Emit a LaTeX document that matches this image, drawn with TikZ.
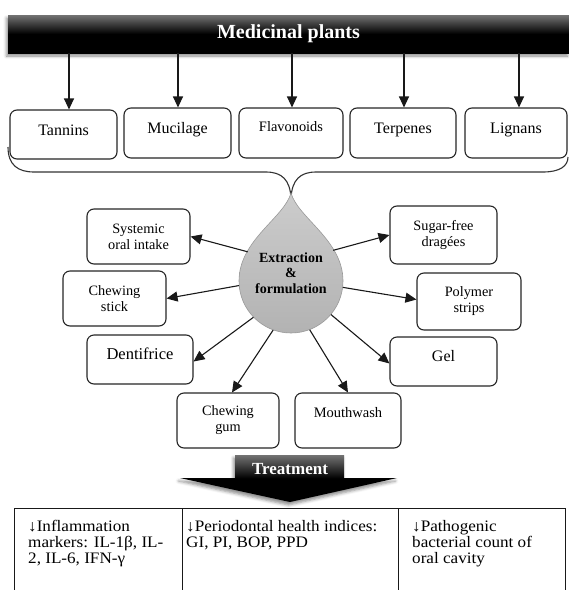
\documentclass[tikz,border=0pt]{standalone}
\usepackage{fontspec}
\setmainfont{Liberation Serif}
\newfontfamily\tabfont[FakeStretch=1.07]{Liberation Serif}
\usetikzlibrary{arrows.meta,shadows.blur}
\begin{document}
\begin{tikzpicture}[x=1pt,y=1pt,
  box/.style={draw=black!85, line width=1.1pt, rounded corners=7pt, fill=white, inner sep=1pt, align=center},
  liftby/.style={text height=11pt, text depth=#1},
  topfont/.style={font=\fontsize{16}{18}\selectfont},
  smallfont/.style={font=\fontsize{14.3}{16}\selectfont},
  arr/.style={draw=black!90, line width=1.1pt, -{Triangle[length=11pt,width=10pt]}},
  braceline/.style={draw=black!80, line width=1.1pt},
  darkbar/.style={top color=black!55, bottom color=black, middle color=black, draw=none,
     blur shadow={shadow xshift=-1.5pt, shadow yshift=-3pt, shadow blur radius=3pt, shadow opacity=45}},
  cell/.style={anchor=north west, inner sep=0pt, align=left, font=\tabfont\fontsize{16}{16}\selectfont},
  tabline/.style={draw=black!90, line width=1pt}
]
\useasboundingbox (0,0) rectangle (569,-590);

% top bar
\node[darkbar, minimum width=561pt, minimum height=38pt, inner sep=0pt,
      text=white, font=\fontsize{20}{24}\selectfont\bfseries] (bar) at (288.5,-34) {Medicinal plants};

% compound boxes
\node[box, topfont, minimum width=107pt, minimum height=49pt, liftby=9.4pt] (tannins) at (63.5,-134.5) {Tannins};
\node[box, topfont, minimum width=107pt, minimum height=50pt, liftby=10.4pt] (mucilage) at (177.5,-133) {Mucilage};
\node[box, font=\fontsize{14.4}{16}\selectfont, minimum width=104pt, minimum height=50pt, text height=10pt, text depth=12.5pt] (flavo) at (291,-133) {Flavonoids};
\node[box, topfont, minimum width=106pt, minimum height=50pt, liftby=10.4pt] (terpenes) at (403,-133) {Terpenes};
\node[box, topfont, minimum width=102pt, minimum height=50pt, liftby=10.4pt] (lignans) at (516,-133) {Lignans};

\coordinate (a1) at ([xshift=5.5pt]tannins.north);
\coordinate (a2) at ([xshift=0.5pt]mucilage.north);
\coordinate (a3) at ([xshift=1pt]flavo.north);
\coordinate (a4) at ([xshift=1pt]terpenes.north);
\coordinate (a5) at ([xshift=3pt]lignans.north);
\foreach \c in {a1,a2,a3,a4,a5}{
  \draw[arr] (\c |- bar.south) -- (\c);
}

% brace
\draw[braceline] (8,-147) .. controls (8,-165) and (18,-172) .. (34,-172) -- (266,-172)
   .. controls (282,-172) and (290,-180) .. (291,-198);
\draw[braceline] (291,-198) .. controls (292,-180) and (300,-172) .. (316,-172) -- (543,-172)
   .. controls (560,-172) and (568,-166) .. (568,-157);

% drop
\draw[draw=black!40, line width=0.6pt, top color=black!20, bottom color=black!30]
  (291,-193) .. controls (298,-218) and (343,-240) .. (343,-281)
  arc[start angle=0, end angle=-180, radius=52]
  .. controls (239,-240) and (284,-218) .. (291,-193) -- cycle;
\node[circle, minimum size=104pt, inner sep=0pt] (dropc) at (291,-281) {};
\node[align=center, inner sep=0pt, font=\fontsize{14}{15.5}\selectfont\bfseries] (droptxt) at (291,-273) {Extraction\\\&\\formulation};

% formulation boxes
\node[box, smallfont, minimum width=103pt, minimum height=55pt] (sys) at (138.5,-236.5) {Systemic\\oral intake};
\node[box, smallfont, minimum width=107pt, minimum height=58pt] (sugar) at (443.5,-235) {Sugar-free\\drag\'ees};
\node[box, smallfont, minimum width=103pt, minimum height=55pt] (stick) at (114.5,-298.5) {Chewing\\stick};
\node[box, smallfont, minimum width=104pt, minimum height=57pt] (poly) at (469,-301.5) {Polymer\\strips};
\node[box, font=\fontsize{16.5}{18}\selectfont, minimum width=106pt, minimum height=49pt, text height=11pt, text depth=10.1pt] (denti) at (140,-359.5) {Dentifrice};
\node[box, topfont, minimum width=107pt, minimum height=49pt, liftby=10.4pt] (gel) at (443.5,-361.5) {Gel};
\node[box, smallfont, minimum width=102pt, minimum height=55pt] (gum) at (228,-420.5) {Chewing\\gum};
\node[box, font=\fontsize{14.5}{16}\selectfont, minimum width=106pt, minimum height=55pt, text height=10pt, text depth=15.4pt] (mouth) at (348,-420.5) {Mouthwash};

\draw[arr] (dropc.146.6) -- (sys.east);
\draw[arr] (dropc.36.4) -- (sugar.west);
\draw[arr] (dropc.185.4) -- (stick.east);
\draw[arr] (dropc.353.4) -- ([yshift=2pt]poly.west);
\draw[arr] (dropc.224.2) -- ([yshift=-2pt]denti.east);
\draw[arr] (dropc.320.3) -- ([yshift=-2pt]gel.west);
\draw[arr] (dropc.250.6) -- ([xshift=4pt]gum.north);
\draw[arr] (dropc.291.2) -- (mouth.north);

% treatment arrow
\path[darkbar] (235,-455) -- (344,-455) -- (344,-478) -- (397,-478) -- (290,-502)
   -- (180,-478) -- (235,-478) -- cycle;
\node[text=white, inner sep=0pt, font=\fontsize{17}{19}\selectfont\bfseries] (treat) at (290,-469) {Treatment};

% table
\draw[tabline] (14,-590) -- (14,-508) -- (565,-508) -- (565,-590);
\draw[tabline] (182,-508) -- (182,-590);
\draw[tabline] (398,-508) -- (398,-590);
\node[cell] (c1) at (28,-520) {↓Inflammation\\markers: IL-1β, IL-\\2, IL-6, IFN-γ};
\node[cell] (c2) at (186,-520) {↓Periodontal health indices:\\GI, PI, BOP, PPD};
\node[cell] (c3) at (412,-520) {↓Pathogenic\\bacterial count of\\oral cavity};
\end{tikzpicture}
\end{document}
